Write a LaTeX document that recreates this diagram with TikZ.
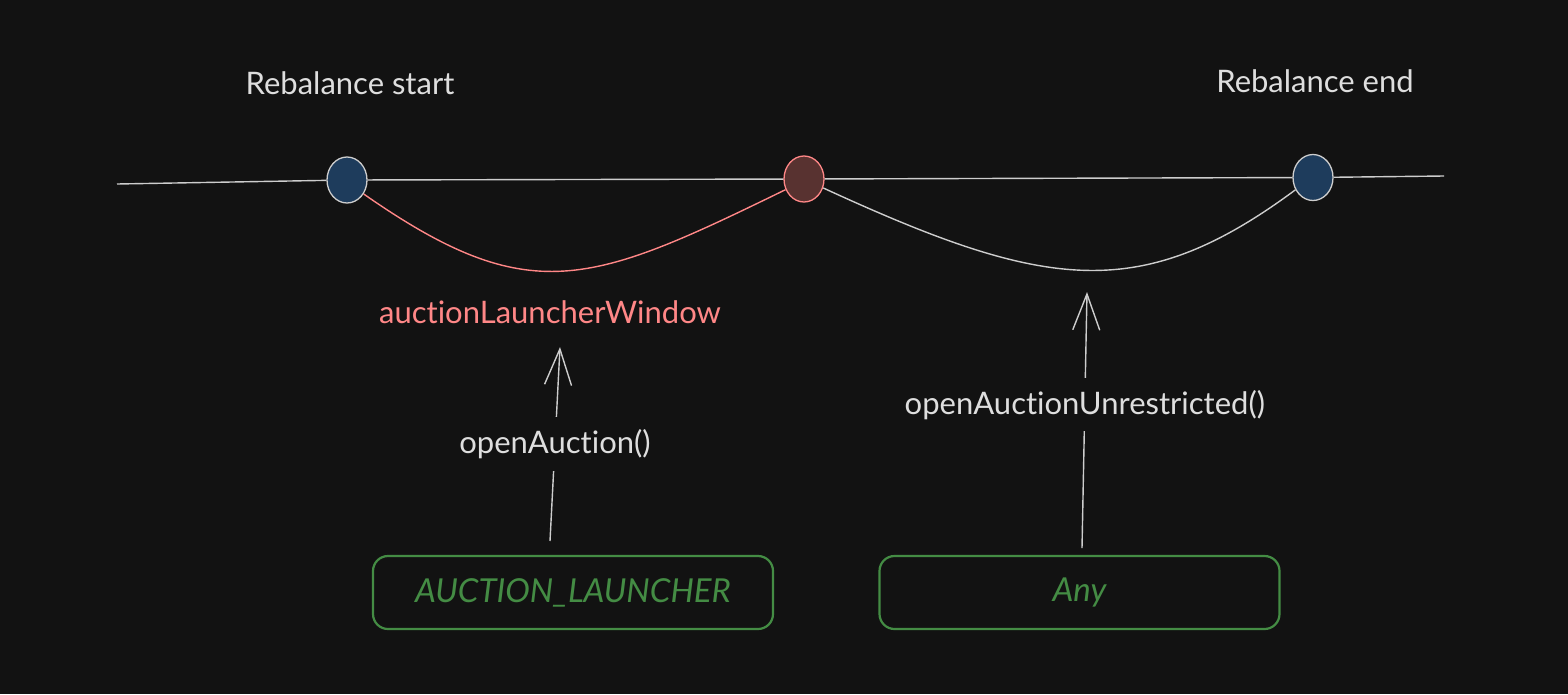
\documentclass[tikz,border=0pt]{standalone}
\usepackage{fontspec}
\setmainfont{Lato}[Ligatures=NoCommon]
\usetikzlibrary{arrows.meta,shapes.geometric}

\definecolor{bgdark}{RGB}{18,18,18}
\definecolor{txtgray}{RGB}{222,222,222}
\definecolor{linegray}{RGB}{205,205,205}
\definecolor{winred}{RGB}{255,135,135}
\definecolor{ptblue}{RGB}{30,60,92}
\definecolor{ptred}{RGB}{88,50,48}
\definecolor{rolegreen}{RGB}{68,140,68}

\begin{document}
\begin{tikzpicture}[x=1pt, y=-1pt,
    point/.style={draw, ellipse, minimum width=40pt, minimum height=46pt, inner sep=0pt, line width=1.3pt},
    caption/.style={text=txtgray, font=\fontsize{31}{37}\selectfont},
    role/.style={draw=rolegreen, text=rolegreen, rounded corners=15pt, line width=2.2pt,
        minimum width=400pt, minimum height=73pt, font=\fontsize{33}{39}\selectfont\itshape},
    call/.style={draw=linegray, line width=1.4pt, -{Straight Barb[length=36pt, width=27pt]}}
  ]

    % Draw the background and fix the picture size
    \fill[bgdark] (0,0) rectangle (1568,694);

    % Timeline end points
    \coordinate (line_s) at (117,184);
    \coordinate (line_e) at (1444,176);

    % Draw points on the timeline (start, launcher window end, end)
    \node[point, draw=linegray, fill=ptblue] (p_start) at (347,180) {};
    \node[point, draw=winred, fill=ptred] (p_mid) at (804,179) {};
    \node[point, draw=linegray, fill=ptblue] (p_end) at (1313,177.5) {};

    % Draw the timeline between the points
    \draw[linegray, line width=1.4pt] (line_s) -- (p_start) -- (p_mid) -- (p_end) -- (line_e);

    % Draw labels above start and end
    \node[caption] (lbl_start) at (350,83) {Rebalance start};
    \node[caption] (lbl_end) at (1315,81) {Rebalance end};

    % Draw window curves below the timeline
    \draw[winred, line width=1.4pt] (p_start.-40) .. controls (530,310) and (590,285) .. (p_mid.-150);
    \draw[linegray, line width=1.4pt] (p_mid.-25) .. controls (1045,290) and (1140,305) .. (p_end.-145);

    % Draw window label
    \node[caption, text=winred] (lbl_win) at (550,312) {auctionLauncherWindow};

    % Draw role boxes
    \node[role] (box_launcher) at (573,592.5) {AUCTION\_LAUNCHER};
    \node[role] (box_any) at (1079.5,592.5) {Any};

    % Arrow end points
    \coordinate (a1_s) at (550,541);
    \coordinate (a1_e) at (560,347);
    \coordinate (a2_s) at (1082,548);
    \coordinate (a2_e) at (1087,292);

    % Draw arrows from the roles to the windows
    \draw[call] (a1_s) -- node[caption, fill=bgdark, inner sep=12pt, pos=0.5] (fn_open) {openAuction()} (a1_e);
    \draw[call] (a2_s) -- node[caption, fill=bgdark, inner sep=12pt, pos=0.56] (fn_any) {openAuctionUnrestricted()} (a2_e);

\end{tikzpicture}
\end{document}
